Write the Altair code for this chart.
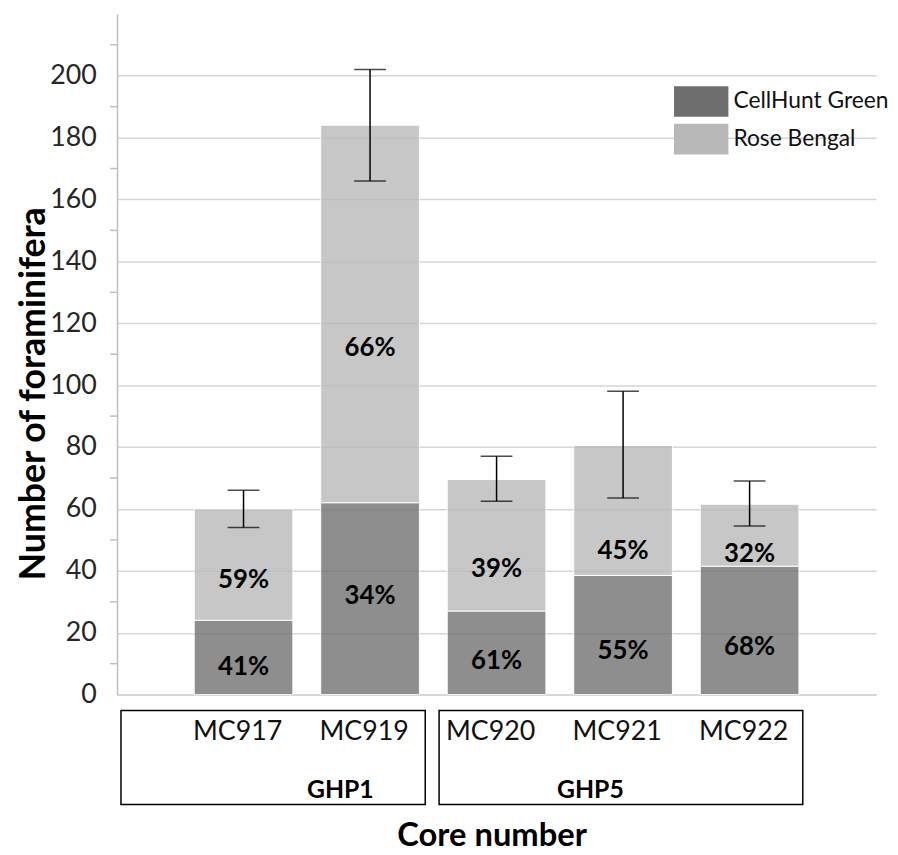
import altair as alt
import pandas as pd

# ---- data ----
cores = ["MC917", "MC919", "MC920", "MC921", "MC922"]
cellhunt_top = [24, 62, 27, 38.5, 41.5]
rose_top = [60, 184, 69.5, 80.5, 61.5]
err_low = [54, 166, 62.5, 63.5, 54.5]
err_high = [66, 202, 77, 98, 69]
pct_cellhunt = ["41%", "34%", "61%", "55%", "68%"]
pct_rose = ["59%", "66%", "39%", "45%", "32%"]
pct_cellhunt_at = [9, 32, 11, 14, 15.5]
pct_rose_at = [37, 112, 40.5, 46.5, 45.5]
stains = ["CellHunt Green", "Rose Bengal"]
groups = ["GHP1", "GHP5"]
group_anchor = ["MC919", "MC921"]
y_major = list(range(0, 201, 20))
y_minor = list(range(10, 211, 20))

FONT = "Lato"

seg_rows = []
for i, c in enumerate(cores):
    seg_rows.append({"core": c, "stain": stains[0], "lo": 0, "hi": cellhunt_top[i]})
    seg_rows.append({"core": c, "stain": stains[1], "lo": cellhunt_top[i], "hi": rose_top[i]})
seg = pd.DataFrame(seg_rows)

err = pd.DataFrame({"core": cores, "low": err_low, "high": err_high})

lab_rows = []
for i, c in enumerate(cores):
    lab_rows.append({"core": c, "y": pct_cellhunt_at[i], "t": pct_cellhunt[i]})
    lab_rows.append({"core": c, "y": pct_rose_at[i], "t": pct_rose[i]})
labs = pd.DataFrame(lab_rows)

minor = pd.DataFrame({"v": y_minor})

xscale = alt.Scale(domain=cores, paddingInner=0.22, paddingOuter=0.61)
yscale = alt.Scale(domain=[0, 220], nice=False)

x_enc = alt.X(
    "core:N", scale=xscale, sort=cores,
    axis=alt.Axis(
        title="Core number", titleFont=FONT, titleFontSize=33, titleFontWeight="bold",
        titleColor="#000000", titleX=378, titleY=152, titleBaseline="alphabetic",
        titleAlign="center",
        labelFont=FONT, labelFontSize=27, labelColor="#111111", labelAngle=0,
        labelPadding=24, labelOffset=-6, ticks=False,
        domain=True, domainColor="#d4d4d4", domainWidth=1.5, grid=False,
    ),
)

bars = alt.Chart(seg).mark_bar(opacity=0.775, stroke="#ffffff", strokeWidth=1).encode(
    x=x_enc,
    y=alt.Y(
        "lo:Q", scale=yscale,
        axis=alt.Axis(
            values=y_major, title="Number of foraminifera", titleFont=FONT,
            titleFontSize=36, titleFontWeight="bold", titleColor="#000000",
            titleX=-73, titleY=383, titleBaseline="alphabetic", titleAlign="center",
            labelFont=FONT, labelFontSize=27, labelColor="#262626", labelPadding=21,
            ticks=False, domain=True, domainColor="#bfbfbf", domainWidth=1.5,
            grid=True, gridColor="#d6d6d6", gridWidth=1.5,
        ),
    ),
    y2="hi:Q",
    color=alt.Color(
        "stain:N",
        scale=alt.Scale(domain=stains, range=["#6e6e6e", "#b8b8b8"]),
        legend=alt.Legend(
            title=None, orient="none", legendX=574, legendY=73, padding=0,
            symbolType="M-1.77,-1L1.77,-1L1.77,1L-1.77,1Z", symbolSize=961,
            symbolOpacity=1, symbolStrokeWidth=0, labelOffset=17, rowPadding=7,
            labelFont=FONT, labelFontSize=23, labelColor="#111111", labelLimit=300,
        ),
    ),
)

minor_ticks = alt.Chart(minor).mark_rule(color="#bfbfbf", strokeWidth=1.5).encode(
    x=alt.value(-7), x2=alt.value(0), y=alt.Y("v:Q", scale=yscale)
)

err_rule = alt.Chart(err).mark_rule(color="#000000", strokeWidth=1.5).encode(
    x=alt.X("core:N", scale=xscale, sort=cores), y=alt.Y("low:Q", scale=yscale), y2="high:Q"
)
cap_lo = alt.Chart(err).mark_tick(color="#000000", thickness=1.5, size=32, orient="horizontal").encode(
    x=alt.X("core:N", scale=xscale, sort=cores), y=alt.Y("low:Q", scale=yscale)
)
cap_hi = alt.Chart(err).mark_tick(color="#000000", thickness=1.5, size=32, orient="horizontal").encode(
    x=alt.X("core:N", scale=xscale, sort=cores), y=alt.Y("high:Q", scale=yscale)
)

pct = alt.Chart(labs).mark_text(font=FONT, fontSize=26, fontWeight="bold", color="#000000",
                                baseline="middle").encode(
    x=alt.X("core:N", scale=xscale, sort=cores), y=alt.Y("y:Q", scale=yscale), text="t:N"
)

g1 = alt.Chart(pd.DataFrame({"core": [group_anchor[0]], "g": [groups[0]]})).mark_text(
    font=FONT, fontSize=25, fontWeight="bold", color="#000000", baseline="middle", dx=-30
).encode(x=alt.X("core:N", scale=xscale, sort=cores), y=alt.value(783), text="g:N")
g2 = alt.Chart(pd.DataFrame({"core": [group_anchor[1]], "g": [groups[1]]})).mark_text(
    font=FONT, fontSize=25, fontWeight="bold", color="#000000", baseline="middle", dx=-33
).encode(x=alt.X("core:N", scale=xscale, sort=cores), y=alt.value(783), text="g:N")

box1 = alt.Chart(pd.DataFrame({"g": [groups[0]]})).mark_rect(
    fill=None, stroke="#000000", strokeWidth=1.5
).encode(x=alt.value(4), x2=alt.value(311), y=alt.value(703), y2=alt.value(798))
box2 = alt.Chart(pd.DataFrame({"g": [groups[1]]})).mark_rect(
    fill=None, stroke="#000000", strokeWidth=1.5
).encode(x=alt.value(325), x2=alt.value(692), y=alt.value(703), y2=alt.value(798))

chart = alt.layer(
    bars, minor_ticks, err_rule, cap_lo, cap_hi, pct, g1, g2, box1, box2
).properties(
    width=766, height=687,
    autosize=alt.AutoSizeParams(type="none"),
    padding={"left": 110, "top": 2, "right": 14, "bottom": 158},
).configure_view(stroke=None).configure_axis(labelFlush=False)

chart.save("out.html", embed_options={"renderer": "svg", "actions": False})
